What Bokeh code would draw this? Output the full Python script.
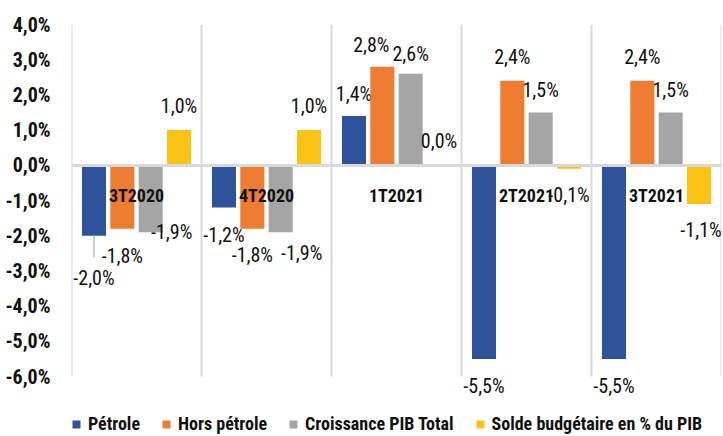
from bokeh.plotting import figure
from bokeh.models import FactorRange, Legend, LegendItem, FixedTicker, ColumnDataSource
from bokeh.transform import dodge
from bokeh.core.properties import value
from bokeh.embed import file_html
from bokeh.resources import INLINE

# ---- data ----
categories = ["3T2020", "4T2020", "1T2021", "2T2021", "3T2021"]
series_names = ["Pétrole", "Hors pétrole", "Croissance PIB Total", "Solde budgétaire en % du PIB"]
petrole = [-2.0, -1.2, 1.4, -5.5, -5.5]
hors_petrole = [-1.8, -1.8, 2.8, 2.4, 2.4]
croissance = [-1.9, -1.9, 2.6, 1.5, 1.5]
solde = [1.0, 1.0, 0.0, -0.1, -1.1]
y_ticks = [-6, -5, -4, -3, -2, -1, 0, 1, 2, 3, 4]
y_tick_labels = ["-6,0%", "-5,0%", "-4,0%", "-3,0%", "-2,0%", "-1,0%",
                 "0,0%", "1,0%", "2,0%", "3,0%", "4,0%"]

# ---- styles / layout ----
FONT = "Roboto Condensed"
colors = ["#2f539a", "#ee7d31", "#a5a5a5", "#fcc214"]
offsets = [-0.327, -0.109, 0.109, 0.327]
bar_width = 0.185
PLOT_H = 352            # pixel height of the value area (-6 .. 4)
LEGEND_H = 58           # extra pixel strip below the value area that holds the legend
y_min, y_max = min(y_ticks), max(y_ticks)
px_per_unit = PLOT_H / (y_max - y_min)
y_start = y_min - LEGEND_H / px_per_unit

# label pixel offsets (dx, dy) per series / category; positive dy = downward
label_dx = [[0, 0, 0, 0, 0],
            [0, 0, -11, 0, 0],
            [21, 21, 0, 0, 0],
            [0, 0, 0, 0, 2]]
label_dy = [[42, 27, -22, 27, 27],
            [27, 26, -22, -24, -24],
            [0, 21, -20, -23, -23],
            [-24, -24, -24, 26, 26]]

series = [petrole, hors_petrole, croissance, solde]

p = figure(x_range=FactorRange(factors=categories), y_range=(y_start, y_max),
           frame_width=650, frame_height=PLOT_H + LEGEND_H,
           min_border_left=71, min_border_right=2, min_border_top=24, min_border_bottom=2,
           output_backend="svg", toolbar_location=None)
p.outline_line_color = None
p.xgrid.visible = False
p.ygrid.visible = False

# category separators (between categories, spanning the value area)
sep = ColumnDataSource(dict(x=list(range(len(categories) + 1)),
                            y0=[y_min] * (len(categories) + 1),
                            y1=[y_max] * (len(categories) + 1)))
p.segment(x0="x", x1="x", y0="y0", y1="y1", source=sep, line_color="#d9d9d9", line_width=2)

renderers = []
for k, vals in enumerate(series):
    src = ColumnDataSource(dict(
        cat=categories, v=vals,
        lbl=[("%.1f" % x).replace(".", ",") + "%" for x in vals],
        dx=label_dx[k], dy=label_dy[k]))
    r = p.vbar(x=dodge("cat", offsets[k], range=p.x_range), top="v", bottom=0,
               width=bar_width, source=src, fill_color=colors[k], line_color=None)
    renderers.append(r)
    p.text(x=dodge("cat", offsets[k], range=p.x_range), y="v", text="lbl", source=src,
           x_offset="dx", y_offset="dy", text_align="center", text_baseline="middle",
           text_font=value(FONT), text_font_size="20px", text_color="#111111")

lead = ColumnDataSource(dict(cat=categories[:1], y0=petrole[:1], y1=[petrole[0] - 0.62]))
p.segment(x0=dodge("cat", offsets[0], range=p.x_range), x1=dodge("cat", offsets[0], range=p.x_range),
          y0="y0", y1="y1", source=lead, line_color="#bfbfbf", line_width=1.5)

p.yaxis.ticker = FixedTicker(ticks=y_ticks)
p.yaxis.major_label_overrides = {t: l for t, l in zip(y_ticks, y_tick_labels)}
p.yaxis.axis_line_color = None
p.yaxis.major_tick_line_color = None
p.yaxis.minor_tick_line_color = None
p.yaxis.major_tick_out = 0
p.yaxis.major_label_standoff = 21
p.yaxis.major_label_text_font = FONT
p.yaxis.major_label_text_font_size = "20px"
p.yaxis.major_label_text_font_style = "bold"
p.yaxis.major_label_text_color = "#111111"

p.xaxis.fixed_location = 0
p.xaxis.axis_line_color = "#d9d9d9"
p.xaxis.axis_line_width = 3
p.xaxis.major_tick_line_color = None
p.xaxis.minor_tick_line_color = None
p.xaxis.major_tick_out = 0
p.xaxis.major_label_standoff = 20
p.xaxis.major_label_text_font = FONT
p.xaxis.major_label_text_font_size = "18px"
p.xaxis.major_label_text_font_style = "bold"
p.xaxis.major_label_text_color = "#111111"

legend = Legend(items=[LegendItem(label=n, renderers=[r]) for n, r in zip(series_names, renderers)],
                orientation="horizontal", location=(0, 0),
                glyph_width=10, glyph_height=10, label_standoff=7, spacing=21,
                padding=0, margin=0, border_line_color=None, background_fill_alpha=0,
                label_text_font=FONT, label_text_font_size="18px", label_text_font_style="bold",
                label_text_color="#111111")
p.add_layout(legend, "center")

open("out.html", "w").write(file_html(p, INLINE))
